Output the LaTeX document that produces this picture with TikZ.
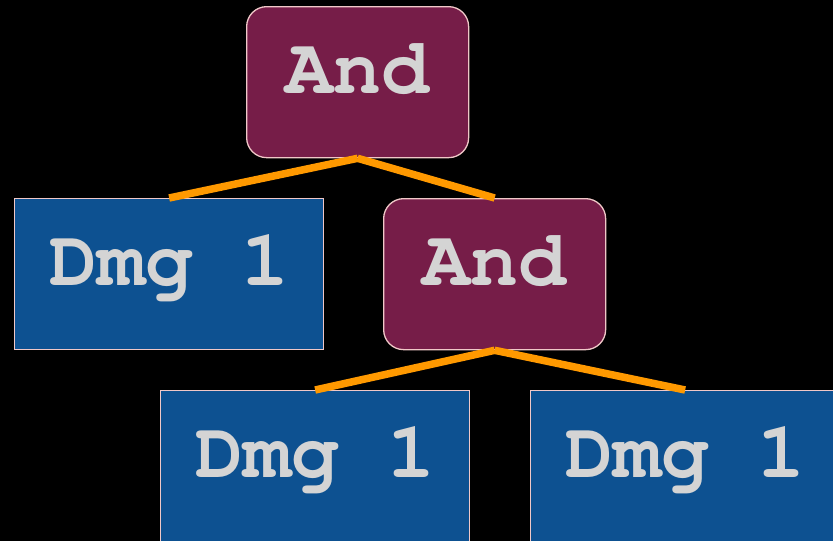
\documentclass[tikz,border=0pt]{standalone}
\usepackage{fontspec}
\setmonofont{TeX Gyre Cursor}
\definecolor{andfill}{RGB}{118,29,72}
\definecolor{dmgfill}{RGB}{13,81,145}
\definecolor{edgepink}{RGB}{240,200,200}
\definecolor{labelgray}{RGB}{212,212,212}
\definecolor{linkorange}{RGB}{255,153,0}
\begin{document}
\begin{tikzpicture}[x=1pt,y=-1pt,
  treebox/.style={draw=edgepink, line width=1.3pt, anchor=north west,
    inner sep=0pt, text height=87pt, text depth=64pt, minimum width=#1,
    text=labelgray, font=\ttfamily\bfseries\fontsize{80}{80}\selectfont},
  andbox/.style={treebox=222pt, fill=andfill, rounded corners=20pt},
  dmgbox/.style={treebox=309pt, fill=dmgfill},
  link/.style={draw=linkorange, line width=7.5pt}]
  \fill[black] (0,0) rectangle (833,541);
  \clip (0,0) rectangle (833,541);
  \useasboundingbox (0,0) rectangle (833,541);
  % tree nodes
  \node[andbox] (root) at (246,6) {And};
  \node[dmgbox] (leafA) at (14,198) {Dmg 1};
  \node[andbox] (inner) at (383,198) {And};
  \node[dmgbox] (leafB) at (160,390) {Dmg 1};
  \node[dmgbox] (leafC) at (530,390) {Dmg 1};
  % branches
  \draw[link] (root.south) -- (leafA.north);
  \draw[link] (root.south) -- (inner.north);
  \draw[link] (inner.south) -- (leafB.north);
  \draw[link] (inner.south) -- (leafC.north);
\end{tikzpicture}
\end{document}
